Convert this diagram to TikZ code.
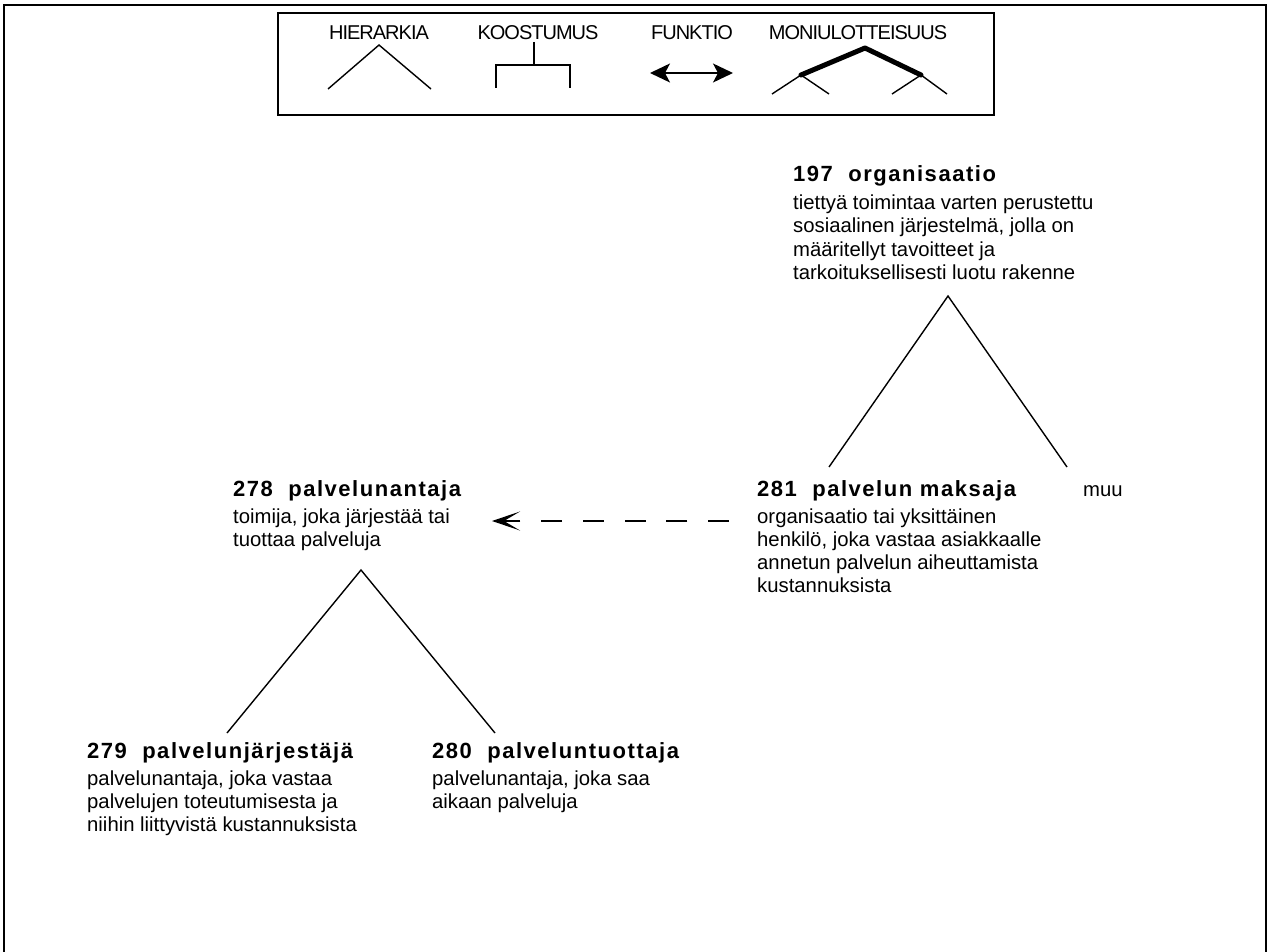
\documentclass[tikz,border=0pt]{standalone}
\usepackage{fontspec}
\setmainfont{Liberation Sans}
\newfontfamily\termfont[LetterSpace=7]{Liberation Sans}
\newfontfamily\legendfont[LetterSpace=-5]{Liberation Sans}
\usetikzlibrary{arrows.meta}
\begin{document}
\begin{tikzpicture}[x=1pt,y=-1pt,
  frame/.style={draw=black,line width=2pt},
  rel/.style={draw=black,line width=1.4pt},
  legendlbl/.style={anchor=base,inner sep=0pt,font=\fontsize{20}{24}\legendfont},
  termtxt/.style={anchor=base west,inner sep=0pt,font=\fontsize{22}{26}\termfont\bfseries},
  defn/.style={anchor=base west,inner sep=0pt,font=\fontsize{20.3}{24}\selectfont},
  seealso/.style={line width=2.5pt,dash pattern=on 21pt off 20.75pt,
    -{Stealth[length=28pt,width=19pt,inset=16pt]}},
  bothway/.style={line width=1.4pt,
    {Stealth[length=20pt,width=19pt,inset=5pt]}-{Stealth[length=20pt,width=19pt,inset=5pt]}},
]
\useasboundingbox (0,0) rectangle (1269,952);

% page frame (open at the bottom edge of the page)
\draw[frame] (4,5) rectangle (1266,990);

% legend
\node[frame,anchor=north west,minimum width=716pt,minimum height=102pt,inner sep=0pt] (legend) at (277,12) {};
\node[legendlbl] (lhier) at (379,40) {HIERARKIA};
\node[legendlbl] (lkoos) at (538,40) {KOOSTUMUS};
\node[legendlbl] (lfunk) at (692,40) {FUNKTIO};
\node[legendlbl] (lmoni) at (858,40) {MONIULOTTEISUUS};

% hierarchy sign
\draw[rel] (328,89) -- (379,45) -- (431,89);
% composition sign
\draw[rel] (534,42) -- (534,65);
\draw[rel] (496,88) -- (496,65) -- (570,65) -- (570,88);
% function sign
\draw[bothway] (650,73) -- (733,73);
% multidimensionality sign
\draw[line width=5pt,line cap=round,line join=round] (801,75) -- (865,48) -- (921,75);
\draw[rel] (772,94) -- (801,75) -- (829,94);
\draw[rel] (892,94) -- (921,75) -- (947,94);

% 197 organisaatio
\node[termtxt] (t197) at (793,182) {197\ \ organisaatio};
\node[defn] (d197a) at (793,210) {tiettyä toimintaa varten perustettu};
\node[defn] (d197b) at (793,233) {sosiaalinen järjestelmä, jolla on};
\node[defn] (d197c) at (793,256) {määritellyt tavoitteet ja};
\node[defn] (d197d) at (793,279) {tarkoituksellisesti luotu rakenne};

% 281 palvelun maksaja
\node[termtxt] (t281) at (757,496) {281\ \ palvelun maksaja};
\node[defn] (d281a) at (757,523) {organisaatio tai yksittäinen};
\node[defn] (d281b) at (757,546) {henkilö, joka vastaa asiakkaalle};
\node[defn] (d281c) at (757,569) {annetun palvelun aiheuttamista};
\node[defn] (d281d) at (757,592) {kustannuksista};
\node[defn] (muu) at (1083,496) {muu};

% 278 palvelunantaja
\node[termtxt] (t278) at (233,496) {278\ \ palvelunantaja};
\node[defn] (d278a) at (233,523) {toimija, joka järjestää tai};
\node[defn] (d278b) at (233,546) {tuottaa palveluja};

% 279 palvelunjärjestäjä
\node[termtxt] (t279) at (87,758) {279\ \ palvelunjärjestäjä};
\node[defn] (d279a) at (87,785) {palvelunantaja, joka vastaa};
\node[defn] (d279b) at (87,808) {palvelujen toteutumisesta ja};
\node[defn] (d279c) at (87,831) {niihin liittyvistä kustannuksista};

% 280 palveluntuottaja
\node[termtxt] (t280) at (432,758) {280\ \ palveluntuottaja};
\node[defn] (d280a) at (432,785) {palvelunantaja, joka saa};
\node[defn] (d280b) at (432,808) {aikaan palveluja};

% hierarchy: organisaatio
\coordinate (a197) at (948,296);
\coordinate (l197) at (829,467);
\coordinate (r197) at (1067,467);
\draw[rel] (l197) -- (a197) -- (r197);

% hierarchy: palvelunantaja
\coordinate (a278) at (361,570);
\coordinate (l278) at (227,733);
\coordinate (r278) at (495,733);
\draw[rel] (l278) -- (a278) -- (r278);

% reference from the payer to the provider
\coordinate (s281) at (729,521);
\coordinate (e278) at (492,521);
\draw[seealso] (s281) -- (e278);
\end{tikzpicture}
\end{document}
